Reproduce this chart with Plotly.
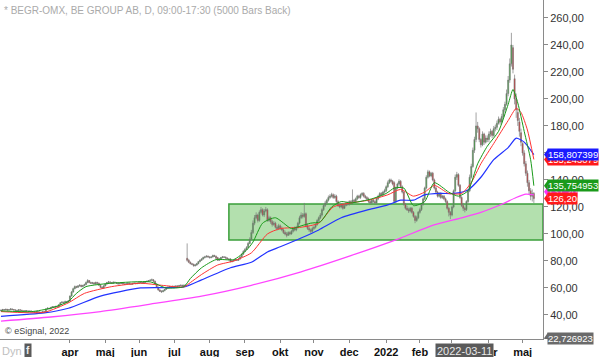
import plotly.graph_objects as go

# ---------------- data ----------------
MONTH_NAMES = ["feb", "mar", "apr", "maj", "jun", "jul", "aug", "sep", "okt", "nov", "dec",
               "2022", "feb", "mar", "apr", "maj"]
MONTH_LEN = [20, 23, 22, 21, 22, 22, 22, 22, 21, 22, 23, 21, 20, 23, 21, 8]
FIRST_LABELLED_MONTH = 2

OPEN = [
    43.2, 43.5, 44, 43.8, 44.2, 43.6, 43.9, 44.5, 44, 43.7, 43.5, 43.2, 43.8, 43.5, 43, 42.8, 43.2, 43, 42.6, 42.9,
    42.5, 42.3, 42, 42.5, 42.2, 41.8, 42, 42.4, 42.2, 44.5, 45, 44.6, 45.5, 46, 45.8, 46.3, 46, 47.5, 49, 49.5, 49, 50, 49.4,
    50.5, 54, 57, 59.5, 61, 60.5, 61.5, 62, 61, 61.8, 62.5, 64, 65.5, 64, 63.5, 63.8, 63, 64, 63.5, 62, 60.5, 60,
    61.5, 63, 64, 64.5, 64, 63.5, 64.2, 64, 63.5, 63, 63.4, 63.8, 63, 62.7, 63.2, 63.5, 63, 62.8, 63.3, 63.6, 63.2,
    63.5, 63.8, 64, 63.5, 64.2, 64.6, 65, 65.4, 65.8, 66, 65, 63, 60.5, 58.5, 57.5, 57.2, 58, 59, 60, 60.5, 61, 60.6,
    61.2, 61, 61.5, 61.2, 61.8, 62, 61.5, 62, 82, 80.5, 79, 78, 77.5, 76.5, 77, 78, 79.5, 80.5, 81.5, 82.5, 83, 83.5,
    83, 82.5, 83, 84, 83.5, 82.5, 80.5, 81.5, 82.5, 83, 82.8, 82.2, 81.5, 81.5, 79.5, 80, 80.5, 81, 80.5, 81.5, 83, 85,
    87, 88.5, 90, 93, 96, 101, 108, 112, 114, 110, 116, 118, 114, 117, 118, 110, 112, 109, 107, 108, 105, 104,
    106, 104, 103, 101, 100, 99, 101, 100, 102, 104, 103, 105, 108, 112, 114, 113, 115, 106, 104, 103, 102,
    104, 105, 107, 110, 112, 114, 118, 121, 123, 125, 127, 128, 129, 127, 128, 124, 121, 120, 122, 119, 121, 123,
    122, 124, 123, 125, 124, 126, 128, 127, 129, 130, 128, 127, 126, 124, 123, 125, 124, 123, 126, 128, 130, 129, 131,
    132, 135, 138, 140, 139, 138, 124, 134, 137, 139, 135, 131, 122, 119, 118, 117, 119, 116, 113, 110, 112,
    116, 118, 122, 126, 134, 142, 146, 143, 145, 140, 134, 131, 128, 130, 127, 128, 126, 124, 119, 116,
    114, 120, 132, 142, 144, 136, 127, 121, 119, 118, 124, 132, 142, 150, 162, 170, 180, 178, 170, 166, 174, 168, 171,
    170, 174, 176, 173, 178, 179, 182, 185, 183, 187, 192, 196, 204, 214, 226, 238, 215, 200, 190, 183, 175,
    167, 160, 152, 145, 138, 132, 128, 130,
]
HIGH = [
    44, 44.5, 44.3, 44.6, 44.4, 44.2, 44.9, 44.7, 44.3, 44, 43.8, 44.2, 44, 43.8, 43.3, 43.6, 43.5, 43.3, 43.3, 43.2,
    42.8, 42.6, 42.9, 42.8, 42.5, 42.4, 42.8, 42.7, 45, 45.6, 45.3, 46, 46.6, 46.4, 46.8, 46.7, 48, 49.6, 50.2, 49.8, 50.6, 50.3, 51,
    54.5, 57.8, 60.2, 61.8, 61.6, 62.2, 62.8, 62.4, 62.4, 63.2, 64.8, 66.5, 65.8, 64.6, 64.5, 64.2, 64.7, 64.6, 64, 62.5, 61.2, 62.2,
    63.6, 64.5, 65.2, 64.9, 64.4, 64.8, 64.7, 64.3, 63.9, 63.9, 64.3, 64.1, 63.4, 63.7, 64, 63.9, 63.5, 63.8, 64.1, 64, 64,
    64.3, 64.5, 64.4, 64.6, 65, 65.5, 65.9, 66.4, 67, 66.5, 65.4, 63.4, 61, 59, 58.3, 58.6, 59.4, 60.5, 61, 61.6, 61.4, 61.7,
    61.7, 62, 61.9, 62.3, 62.6, 62.4, 62.5, 62.4, 93, 81.5, 79.6, 78.6, 78, 77.8, 78.6, 80, 81.2, 82, 83.2, 83.8, 84.3, 84.1,
    83.6, 83.5, 84.7, 84.6, 84, 83, 82.2, 83, 83.7, 83.6, 83.3, 82.7, 82, 82, 80.6, 81, 81.6, 81.5, 82, 83.6, 85.7, 88,
    89.5, 91, 94, 97.5, 103, 110, 114, 116, 115, 117.5, 120, 119, 118.5, 120, 119, 113.5, 113, 110.5, 109.5, 109, 106.5, 107.5,
    107, 105.5, 104, 102.5, 101.5, 102, 102, 103, 105, 105.5, 106, 109, 113.5, 116, 115.5, 123, 116, 107.5, 105.5, 104, 105.5,
    106, 108, 111, 113, 115.5, 119, 122, 124.5, 126, 128.5, 129.5, 130.5, 130, 129.5, 129, 125, 122, 123, 123, 122, 124, 124,
    125, 125, 133, 126, 127, 129, 129, 130, 131, 131, 129, 128, 127, 125, 126, 126, 125, 127, 129, 131, 131, 132, 133.5,
    136, 139.5, 141, 141, 140, 139, 135, 138, 140.5, 140, 136, 132, 123, 121, 119.5, 120, 120, 117, 114, 113.5, 117,
    119.5, 123, 127, 135, 143.5, 147.5, 147, 146, 146, 141, 135, 132, 131, 131, 129, 129, 127, 125, 120, 117,
    121, 133, 144, 146, 145, 137, 128, 123, 120, 125, 133, 144, 152, 164, 172, 190, 183, 179, 171, 176, 175, 173, 173,
    176, 178, 177, 180, 181, 184, 187, 186, 189, 194, 198, 207, 217, 230, 249, 240, 218, 204, 193, 186, 178,
    168, 162, 154, 147, 140, 134, 133, 131,
]
LOW = [
    42.8, 43.2, 43.4, 43.5, 43.3, 43.3, 43.6, 43.6, 43.4, 43.1, 42.9, 43, 43.2, 42.7, 42.4, 42.6, 42.7, 42.3, 42.4, 42.2,
    41.9, 41.6, 41.7, 41.8, 41.4, 41.5, 41.7, 41.8, 42, 44.1, 44.2, 44.3, 45.1, 45.3, 45.5, 45.6, 45.7, 47.2, 48.7, 48.6, 48.8, 49, 49.1,
    50, 53.6, 56.5, 59, 59.8, 60, 61, 60.5, 60.6, 61.3, 62, 63.5, 63.5, 63, 63, 62.5, 62.6, 63, 61.6, 60, 59.4, 59.6,
    61.2, 62.6, 63.6, 63.7, 63.1, 63.2, 63.6, 63.1, 62.6, 62.7, 63, 62.7, 62.3, 62.4, 62.9, 62.7, 62.4, 62.5, 63, 62.8, 62.9,
    63.1, 63.4, 63.1, 63.2, 63.8, 64.3, 64.6, 65, 65.4, 64.6, 62.6, 60, 58, 57, 56.4, 56.9, 57.6, 58.6, 59.6, 60, 60.1, 60.2,
    60.5, 60.6, 60.8, 60.9, 61.4, 61.1, 61.2, 61, 79.5, 78.4, 77.5, 76.9, 75.8, 75.9, 76.5, 77.6, 79, 80, 81, 82, 82.6, 82.4,
    81.8, 82, 82.6, 83, 81.6, 80, 80, 81, 82, 82.2, 81.8, 81.1, 80.5, 79, 79, 79.5, 80, 80, 80.1, 81, 82.6, 84.6,
    86.5, 88, 89.5, 92.5, 95.5, 100, 106.5, 111, 108.5, 109, 115, 113, 112.5, 116, 109, 109, 107.5, 105.5, 106, 104, 102.5, 103,
    103, 102, 100, 99, 97.5, 98.5, 99, 99.5, 101, 102, 102, 104, 107, 111, 111.5, 112, 105, 103, 101.5, 100.5, 101,
    103, 104, 106, 109, 111, 113, 117, 120, 122, 124, 126, 127, 126, 126, 123, 120, 119, 119, 118, 118.5, 120.5, 121,
    121, 122, 122, 123, 123, 125, 126, 126, 128, 127, 126, 125, 123, 122, 122, 123, 122, 122, 125, 127, 128, 128, 130,
    131, 134, 137, 138, 136, 123, 123, 133, 136, 134, 130, 121, 118, 117, 115.5, 116, 115, 112, 108, 109, 111,
    115, 117, 121, 125, 133, 141, 142, 142, 139, 133, 130, 127, 127, 126, 126, 125, 123, 118, 113, 111,
    113, 119, 131, 140, 135, 126, 120, 117, 116, 117, 123, 131, 141, 149, 160, 168, 175, 168, 164, 165, 166, 167, 168,
    168, 172, 171, 172, 176, 177, 181, 181, 182, 186, 190, 195, 202, 212, 224, 219, 196, 186, 180, 172, 165,
    158, 150, 143, 135, 129, 125, 124, 123,
]
CLOSE = [
    43.5, 44, 43.8, 44.2, 43.6, 43.9, 44.5, 44, 43.7, 43.5, 43.2, 43.8, 43.5, 43, 42.8, 43.2, 43, 42.6, 42.9, 42.5,
    42.3, 42, 42.5, 42.2, 41.8, 42, 42.4, 42.1, 44.5, 45, 44.6, 45.5, 46, 45.8, 46.3, 46, 47.5, 49, 49.5, 49, 50, 49.4, 50.5,
    54, 57, 59.5, 61, 60.5, 61.5, 62, 61, 61.8, 62.5, 64, 65.5, 64, 63.5, 63.8, 63, 64, 63.5, 62, 60.5, 60, 61.5,
    63, 64, 64.5, 64, 63.5, 64.2, 64, 63.5, 63, 63.4, 63.8, 63, 62.7, 63.2, 63.5, 63, 62.8, 63.3, 63.6, 63.2, 63.5,
    63.8, 64, 63.5, 64.2, 64.6, 65, 65.4, 65.8, 66, 65, 63, 60.5, 58.5, 57.5, 57.2, 58, 59, 60, 60.5, 61, 60.6, 61.2,
    61, 61.5, 61.2, 61.8, 62, 61.5, 62, 61.5, 80.5, 79, 78, 77.5, 76.5, 77, 78, 79.5, 80.5, 81.5, 82.5, 83, 83.5, 83,
    82.5, 83, 84, 83.5, 82, 80.5, 81.5, 82.5, 83, 82.8, 82.2, 81.5, 81, 79.5, 80, 80.5, 81, 80.5, 81.5, 83, 85, 87,
    88.5, 90, 93, 96, 101, 108, 112, 114, 110, 116, 118, 114, 117, 118, 110, 112, 109, 107, 108, 105, 104, 106,
    104, 103, 101, 100, 99, 101, 100, 102, 104, 103, 105, 108, 112, 114, 113, 115, 106, 104, 103, 102, 104,
    105, 107, 110, 112, 114, 118, 121, 123, 125, 127, 128, 129, 127, 128, 124, 121, 120, 122, 119, 121, 123, 122,
    124, 123, 125, 124, 126, 128, 127, 129, 130, 128, 127, 126, 124, 123, 125, 124, 123, 126, 128, 130, 129, 131, 132,
    135, 138, 140, 139, 137, 124, 134, 137, 139, 135, 131, 122, 119, 118, 117, 119, 116, 113, 110, 112, 116,
    118, 122, 126, 134, 142, 146, 143, 145, 140, 134, 131, 128, 130, 127, 128, 126, 124, 119, 116, 114,
    120, 132, 142, 144, 136, 127, 121, 119, 118, 124, 132, 142, 150, 162, 170, 180, 178, 170, 166, 174, 168, 171, 170,
    174, 176, 173, 178, 179, 182, 185, 183, 187, 192, 196, 204, 214, 226, 240, 222, 200, 192, 184, 176, 168,
    160, 152, 145, 138, 132, 128, 130, 126.2,
]

# moving-average lines, sampled at bar positions
MA200_IDX = [0, 31, 62, 93, 125, 156, 187, 218, 249, 268, 287, 299, 312, 321, 327, 332]
MA200_VAL = [35.5, 38.5, 42.5, 48, 54, 62, 72, 84, 97, 106, 112, 116, 122, 127, 129.5, 129]

MA50_IDX = [0, 27, 42, 62, 87, 114, 125, 143, 156, 166, 174, 187, 198, 212, 229, 241, 249, 257, 264,
            274, 282, 291, 299, 307, 316, 321, 326, 332]
MA50_VAL = [39, 41.5, 45, 54, 60, 60.7, 66, 75, 79, 86.7, 90.5, 97, 103, 112, 118, 121.5, 125, 125, 129,
            130, 130, 132.6, 142, 155, 164, 171, 168, 158.8]

MA20_IDX = [0, 27, 42, 52, 69, 87, 100, 114, 118, 125, 135, 145, 156, 166, 174, 187, 198, 207, 218, 229,
            241, 249, 257, 264, 270, 279, 287, 293, 299, 307, 316, 321, 324, 328, 332]
MA20_VAL = [42.5, 42, 49, 56, 61, 63.5, 62, 60.8, 64, 70, 77, 80, 86, 100, 104, 105, 108, 120, 123, 125,
            129, 133, 128, 131, 136, 130, 130, 138, 152, 167, 184, 193, 190, 177, 155.2]

MA10_IDX = [0, 19, 31, 42, 47, 53, 69, 93, 103, 114, 118, 125, 134, 145, 153, 157, 163, 171, 181, 187,
            193, 199, 206, 212, 218, 231, 240, 245, 251, 257, 264, 270, 279, 285, 291, 297, 303, 310,
            316, 319, 322, 326, 330, 332]
MA10_VAL = [43, 42.5, 45, 50, 56, 61, 63.5, 64.5, 60, 61, 67, 75, 81, 81, 88, 94, 108, 112, 104, 106,
            108, 109, 120, 124, 123, 126, 130, 134, 134, 121, 124, 138, 131, 128, 132, 152, 165, 176,
            196, 207, 197, 176, 155, 135.75]

LAST_LABELS = [  # (value, text, background colour)
    (155.24, "155,243079", "#ff1a1a"),
    (158.807399, "158,807399", "#1a1aff"),
    (131.2, "131,20", "#ff33ff"),
    (135.754953, "135,754953", "#1a9a1a"),
    (126.20, "126,20", "#ff1a1a"),
    (22.726923, "22,726923", "#6a6a6a"),
]
ZONE_LOW, ZONE_HIGH, ZONE_START = 95.6, 122.2, 142
CURSOR_BAR, CURSOR_TEXT = 289, "2022-03-11"
TITLE = "* BEGR-OMX, BE GROUP AB, D, 09:00-17:30 (5000 Bars Back)"

# ---------------- figure ----------------
n = min(len(OPEN), len(HIGH), len(LOW), len(CLOSE))
X = list(range(n))
XR = [-0.6, 337.7]
YR = [22.2, 273.3]
FONT = "Arial, Liberation Sans, sans-serif"

tickvals, ticktext = [], []
pos = 0
for k, (name, ln) in enumerate(zip(MONTH_NAMES, MONTH_LEN)):
    if k >= FIRST_LABELLED_MONTH:
        tickvals.append(pos)
        ticktext.append("<b>%s</b>" % name)
    pos += ln

fig = go.Figure()
fig.add_trace(go.Candlestick(
    x=X, open=OPEN[:n], high=HIGH[:n], low=LOW[:n], close=CLOSE[:n],
    increasing=dict(line=dict(color="#7a7a7a", width=0.7), fillcolor="#1fb01f"),
    decreasing=dict(line=dict(color="#7a7a7a", width=0.7), fillcolor="#e81515"),
    whiskerwidth=0, hoverinfo="skip", showlegend=False))

for idx, val, col, w in [(MA200_IDX, MA200_VAL, "#ff44ff", 1.3),
                         (MA50_IDX, MA50_VAL, "#2233ff", 1.2),
                         (MA20_IDX, MA20_VAL, "#ff3333", 1.0),
                         (MA10_IDX, MA10_VAL, "#1a9a1a", 1.0)]:
    fig.add_trace(go.Scatter(x=idx, y=val, mode="lines",
                             line=dict(color=col, width=w, shape="spline", smoothing=0.6),
                             hoverinfo="skip", showlegend=False))

fig.add_shape(type="rect", xref="x", yref="y", x0=ZONE_START, x1=XR[1], y0=ZONE_LOW, y1=ZONE_HIGH,
              fillcolor="#b3e0ae", line=dict(color="#3a9e3a", width=1.5), layer="below")

ann = []
ann.append(dict(text=TITLE, xref="paper", yref="paper", x=0.004, y=1, xanchor="left", yanchor="top",
                yshift=-3, showarrow=False, font=dict(size=10, color="#aaaaaa", family=FONT)))
ann.append(dict(text="© eSignal, 2022", xref="paper", yref="paper", x=0.006, y=0, xanchor="left",
                yanchor="bottom", yshift=1, showarrow=False, font=dict(size=9, color="#444", family=FONT)))
ann.append(dict(text="Dyn", xref="paper", yref="paper", x=0, y=0, xanchor="left", yanchor="top",
                yshift=-4, showarrow=False, font=dict(size=11, color="#c0c0c0", family=FONT)))
ann.append(dict(text="<b>f</b>", xref="paper", yref="paper", x=24 / 543, y=0, xanchor="left", yanchor="top",
                yshift=-4, showarrow=False, bgcolor="#5a5a5a", borderpad=1,
                font=dict(size=10, color="#eeeeee", family=FONT)))
ann.append(dict(text=CURSOR_TEXT, xref="x", yref="paper", x=CURSOR_BAR, y=0, xanchor="center", yanchor="top",
                yshift=-4, showarrow=False, bgcolor="#5a5a5a", borderpad=1,
                font=dict(size=11, color="#e8e8e8", family=FONT)))
for val, txt, col in LAST_LABELS:
    ann.append(dict(text=txt, xref="paper", yref="y", x=1, y=val, xanchor="left", yanchor="middle",
                    xshift=4, showarrow=False, bgcolor=col, borderpad=0,
                    font=dict(size=9.5, color="white", family=FONT)))
    fig.add_shape(type="path", xref="paper", yref="y",
                  path="M %f %f L %f %f L %f %f Z" % (1 + 1 / 543, val, 1 + 5 / 543, val + 4.2,
                                                     1 + 5 / 543, val - 4.2),
                  fillcolor=col, line=dict(width=0))

fig.update_layout(
    width=600, height=357, margin=dict(l=0, r=57, t=0, b=18),
    paper_bgcolor="white", plot_bgcolor="white", separators=",.",
    font=dict(family=FONT, size=11, color="#333"),
    annotations=ann, showlegend=False,
    xaxis=dict(range=XR, showgrid=False, zeroline=False, showline=True, linecolor="#8a8a8a",
               ticks="outside", ticklen=3, tickcolor="#8a8a8a", tickvals=tickvals, ticktext=ticktext,
               tickfont=dict(size=11, color="#111"), rangeslider=dict(visible=False), fixedrange=True),
    yaxis=dict(range=YR, side="right", showgrid=False, zeroline=False, showline=True, linecolor="#8a8a8a",
               ticks="outside", ticklen=4, tickcolor="#8a8a8a",
               tickvals=list(range(40, 261, 20)), tickformat=".2f",
               tickfont=dict(size=11, color="#333"), fixedrange=True),
    boxgap=0.1,
)

fig.write_html("out.html", config={"displayModeBar": False},
               post_script="document.body.style.margin='0';document.body.style.overflow='hidden';")
